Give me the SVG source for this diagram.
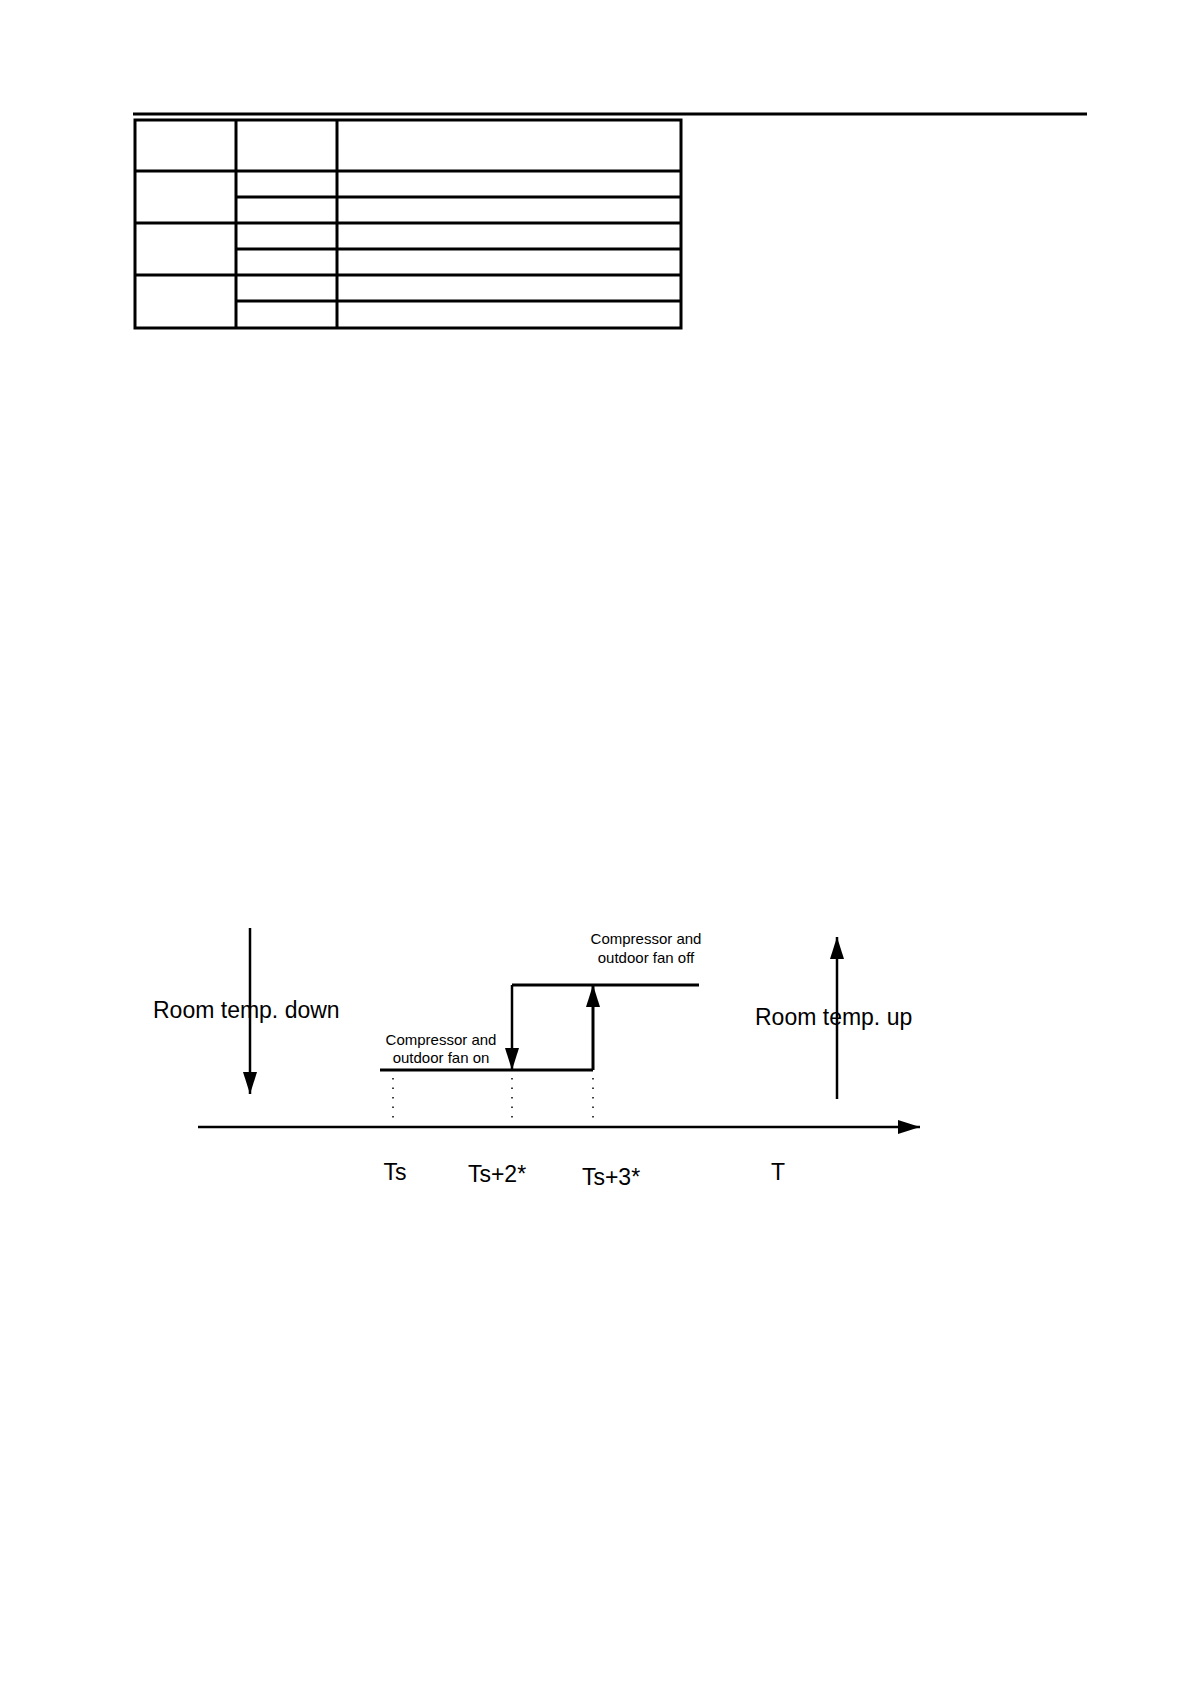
<svg xmlns="http://www.w3.org/2000/svg" width="1190" height="1684" viewBox="0 0 1190 1684">
<style>
.t{stroke:#000;stroke-width:3;fill:none}
.l{stroke:#000;stroke-width:2.5;fill:none}
.d{stroke:#000;stroke-width:1.5;stroke-dasharray:1.5 8;fill:none}
.big{font-family:"Liberation Sans",Arial,sans-serif;font-size:23px;fill:#000}
.sm{font-family:"Liberation Sans",Arial,sans-serif;font-size:15px;fill:#000;text-anchor:middle}
</style>
<defs>
<marker id="ah" markerWidth="10" markerHeight="14" refX="10" refY="7" orient="auto" markerUnits="userSpaceOnUse" viewBox="0 0 10 14"><path d="M0,0 L10,7 L0,14 Z" fill="#000"/></marker>
<marker id="ah2" markerWidth="22" markerHeight="14" refX="22" refY="7" orient="auto" markerUnits="userSpaceOnUse" viewBox="0 0 22 14"><path d="M0,0 L22,7 L0,14 Z" fill="#000"/></marker>
</defs>
<rect width="1190" height="1684" fill="#fff"/>
<g id="table">
<line x1="133" y1="114" x2="1087" y2="114" class="t"/>
<rect x="135" y="120" width="546" height="208" class="t"/>
<line x1="236" y1="120" x2="236" y2="328" class="t"/>
<line x1="337" y1="120" x2="337" y2="328" class="t"/>
<line x1="135" y1="171" x2="681" y2="171" class="t"/>
<line x1="236" y1="197" x2="681" y2="197" class="t"/>
<line x1="135" y1="223" x2="681" y2="223" class="t"/>
<line x1="236" y1="249" x2="681" y2="249" class="t"/>
<line x1="135" y1="275" x2="681" y2="275" class="t"/>
<line x1="236" y1="301" x2="681" y2="301" class="t"/>
</g>
<g id="connectors">
<line x1="198" y1="1127" x2="920" y2="1127" class="l" marker-end="url(#ah2)"/>
<line x1="250" y1="928" x2="250" y2="1094" class="l" marker-end="url(#ah2)"/>
<line x1="837" y1="1099" x2="837" y2="937" class="l" marker-end="url(#ah2)"/>
<line x1="380" y1="1070" x2="593" y2="1070" class="t"/>
<line x1="512" y1="985" x2="699" y2="985" class="t"/>
<line x1="512" y1="985" x2="512" y2="1070" class="l" marker-end="url(#ah2)"/>
<line x1="593" y1="1070" x2="593" y2="985" class="t" marker-end="url(#ah2)"/>
<line x1="393" y1="1078" x2="393" y2="1124" class="d"/>
<line x1="512" y1="1078" x2="512" y2="1124" class="d"/>
<line x1="593" y1="1078" x2="593" y2="1124" class="d"/>
</g>
<g id="labels">
<text x="153" y="1018" class="big">Room temp. down</text>
<text x="755" y="1025" class="big">Room temp. up</text>
<text x="646" y="944" class="sm">Compressor and</text>
<text x="646" y="963" class="sm">outdoor fan off</text>
<text x="441" y="1045" class="sm">Compressor and</text>
<text x="441" y="1063" class="sm">outdoor fan on</text>
<text x="395" y="1180" class="big" text-anchor="middle">Ts</text>
<text x="497" y="1182" class="big" text-anchor="middle">Ts+2*</text>
<text x="611" y="1185" class="big" text-anchor="middle">Ts+3*</text>
<text x="778" y="1180" class="big" text-anchor="middle">T</text>
</g>
</svg>
